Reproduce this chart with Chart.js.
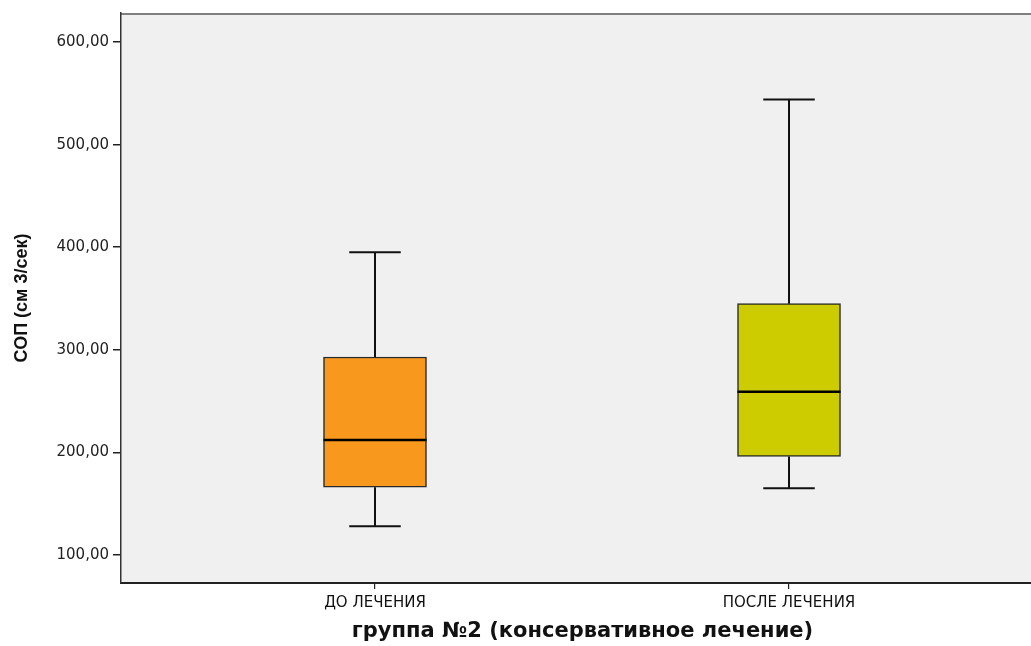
<!DOCTYPE html>
<html>
<head>
<meta charset="utf-8">
<script src="https://cdn.jsdelivr.net/npm/chart.js@4/dist/chart.umd.min.js"></script>
<style>
  html, body { margin: 0; padding: 0; background: #ffffff; overflow: hidden; }
  #wrap { width: 1031px; height: 646px; overflow: hidden; }
  canvas { display: block; }
</style>
</head>
<body>
<div id="wrap"><canvas id="chart" width="1044" height="646"></canvas></div>
<script>
// Box plot: СОП, группа №2, before / after conservative treatment
const categories = ['ДО ЛЕЧЕНИЯ', 'ПОСЛЕ ЛЕЧЕНИЯ'];
const minVals    = [128, 165];
const q1Vals     = [166, 196];
const medianVals = [212, 259];
const q3Vals     = [293, 345];
const maxVals    = [395, 544];
const yTicks     = [100, 200, 300, 400, 500, 600];
const boxColors  = ['#F8981D', '#CCCC00'];

const categoryPos = categories.map((_, i) => i);

const formatTick = v => v.toFixed(2).replace('.', ',');

// plot background and top frame line
const plotFrame = {
  id: 'plotFrame',
  beforeDraw(chart) {
    const { ctx, chartArea: a } = chart;
    ctx.save();
    ctx.fillStyle = '#f0f0f0';
    ctx.fillRect(a.left, a.top, a.right - a.left, a.bottom - a.top);
    ctx.strokeStyle = '#7f7f7f';
    ctx.lineWidth = 2;
    ctx.beginPath();
    ctx.moveTo(a.left, a.top + 1);
    ctx.lineTo(a.right, a.top + 1);
    ctx.stroke();
    ctx.restore();
  }
};

// whiskers, caps and median lines drawn on top of the box bars
const whiskers = {
  id: 'whiskers',
  afterDatasetsDraw(chart) {
    const { ctx } = chart;
    const xs = chart.scales.x, ys = chart.scales.y;
    const meta = chart.getDatasetMeta(0);
    ctx.save();
    categoryPos.forEach((pos, i) => {
      const x = xs.getPixelForValue(pos);
      const bar = meta.data[i];
      const half = bar.width / 2;
      const cap = half / 2;
      const yMin = ys.getPixelForValue(minVals[i]);
      const yQ1 = ys.getPixelForValue(q1Vals[i]);
      const yMed = ys.getPixelForValue(medianVals[i]);
      const yQ3 = ys.getPixelForValue(q3Vals[i]);
      const yMax = ys.getPixelForValue(maxVals[i]);
      ctx.strokeStyle = '#111111';
      ctx.lineWidth = 2;
      ctx.beginPath();
      ctx.moveTo(x, yQ3); ctx.lineTo(x, yMax);
      ctx.moveTo(x - cap, yMax); ctx.lineTo(x + cap, yMax);
      ctx.moveTo(x, yQ1); ctx.lineTo(x, yMin);
      ctx.moveTo(x - cap, yMin); ctx.lineTo(x + cap, yMin);
      ctx.stroke();
      ctx.lineWidth = 2.5;
      ctx.strokeStyle = '#000000';
      ctx.beginPath();
      ctx.moveTo(x - half, yMed); ctx.lineTo(x + half, yMed);
      ctx.stroke();
    });
    ctx.restore();
  }
};

new Chart(document.getElementById('chart'), {
  type: 'bar',
  data: {
    datasets: [{
      data: categoryPos.map((p, i) => ({ x: p, y: [q1Vals[i], q3Vals[i]] })),
      backgroundColor: boxColors,
      borderColor: '#2a2a2a',
      borderWidth: 1.5,
      borderSkipped: false,
      barThickness: 103
    }]
  },
  options: {
    responsive: false,
    animation: false,
    layout: { padding: 0 },
    plugins: {
      legend: { display: false },
      tooltip: { enabled: false }
    },
    scales: {
      x: {
        type: 'linear',
        offset: false,
        min: -0.6135,
        max: 1.6159,
        afterBuildTicks: s => { s.ticks = categoryPos.map(v => ({ value: v })); },
        afterFit: s => { s.height = 63; },
        grid: { display: true, offset: false, drawOnChartArea: false, drawTicks: true, tickLength: 6, color: '#222222', lineWidth: 1.2 },
        border: { display: true, color: '#222222', width: 2 },
        ticks: {
          autoSkip: false,
          maxRotation: 0,
          padding: 5,
          color: '#111111',
          font: { family: 'DejaVu Sans', size: 15 },
          callback: (v, i) => categories[i]
        },
        title: {
          display: true,
          text: 'группа №2 (консервативное лечение)',
          color: '#111111',
          font: { family: 'DejaVu Sans', size: 21, weight: 'bold' },
          padding: { top: 1, bottom: 2 }
        }
      },
      y: {
        type: 'linear',
        min: 72.7,
        max: 628.3,
        afterBuildTicks: s => { s.ticks = yTicks.map(v => ({ value: v })); },
        afterFit: s => { s.width = 121; },
        grid: { display: true, drawOnChartArea: false, drawTicks: true, tickLength: 8, color: '#222222', lineWidth: 1.5 },
        border: { display: true, color: '#333333', width: 1.5 },
        ticks: {
          padding: 4,
          color: '#222222',
          font: { family: 'DejaVu Sans', size: 15 },
          callback: v => formatTick(v)
        },
        title: {
          display: true,
          text: 'СОП (см 3/сек)',
          color: '#111111',
          font: { family: 'Liberation Sans', size: 18, weight: 'bold' },
          padding: { top: 11, bottom: 0 }
        }
      }
    }
  },
  plugins: [plotFrame, whiskers]
});
</script>
</body>
</html>
